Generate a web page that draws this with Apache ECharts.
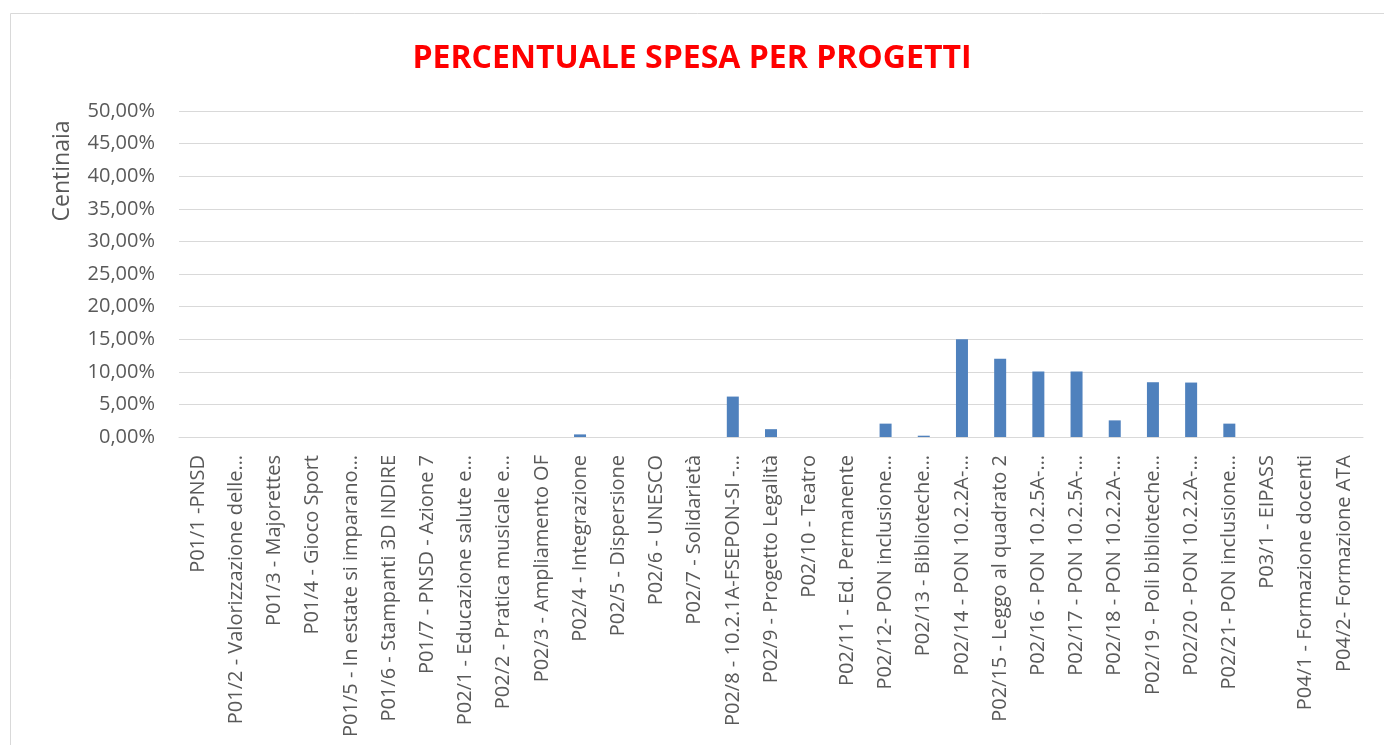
<!DOCTYPE html>
<html>
<head>
<meta charset="utf-8">
<title>Percentuale spesa per progetti</title>
<script src="https://cdn.jsdelivr.net/npm/echarts@6/dist/echarts.min.js"></script>
<style>
    html, body { margin: 0; padding: 0; background: #fff; }
    #chart { width: 1384px; height: 745px; }
</style>
</head>
<body>
<div id="chart"></div>
<script>
    // progetti (etichette come appaiono, troncate)
    const categories = [
        'P01/1 -PNSD',
        'P01/2 - Valorizzazione delle…',
        'P01/3 - Majorettes',
        'P01/4 - Gioco Sport',
        'P01/5 - In estate si imparano…',
        'P01/6 - Stampanti 3D INDIRE',
        'P01/7 - PNSD - Azione 7',
        'P02/1 - Educazione salute e…',
        'P02/2 - Pratica musicale e…',
        'P02/3 - Ampliamento OF',
        'P02/4 - Integrazione',
        'P02/5 - Dispersione',
        'P02/6 - UNESCO',
        'P02/7 - Solidarietà',
        'P02/8 - 10.2.1A-FSEPON-SI -…',
        'P02/9 - Progetto Legalità',
        'P02/10 - Teatro',
        'P02/11 - Ed. Permanente',
        'P02/12- PON inclusione…',
        'P02/13 - Biblioteche…',
        'P02/14 - PON 10.2.2A-…',
        'P02/15 - Leggo al quadrato 2',
        'P02/16 - PON 10.2.5A-…',
        'P02/17 - PON 10.2.5A-…',
        'P02/18 - PON 10.2.2A-…',
        'P02/19 - Poli biblioteche…',
        'P02/20 - PON 10.2.2A-…',
        'P02/21- PON inclusione…',
        'P03/1 - EIPASS',
        'P04/1 - Formazione docenti',
        'P04/2- Formazione ATA'
    ];

    // percentuale spesa
    const percentuali = [
        0, 0, 0, 0, 0, 0, 0, 0, 0, 0,
        0.4, 0, 0, 0, 6.2, 1.2, 0, 0, 2.05, 0.2,
        15.0, 12.0, 10.05, 10.05, 2.55, 8.4, 8.35, 2.05, 0, 0, 0
    ];

    const yTicks = { min: 0, max: 50, interval: 5 };

    const fmtPerc = v => v.toFixed(2).replace('.', ',') + '%';

    const chart = echarts.init(document.getElementById('chart'));
    const option = {
        animation: false,
        textStyle: { fontFamily: 'Open Sans' },
        title: {
            text: 'PERCENTUALE SPESA PER PROGETTI',
            left: 'center',
            top: 38,
            textStyle: {
                color: '#ff0000',
                fontSize: 32,
                fontWeight: 'bold',
                fontFamily: 'Open Sans'
            }
        },
        graphic: [
            {
                type: 'rect',
                shape: { x: 10.5, y: 13.5, width: 1420, height: 800 },
                style: { fill: 'none', stroke: '#d9d9d9', lineWidth: 1 },
                silent: true
            },
            {
                type: 'text',
                x: 62,
                y: 171,
                rotation: Math.PI / 2,
                style: {
                    text: 'Centinaia',
                    fill: '#595959',
                    fontSize: 23,
                    fontFamily: 'Open Sans',
                    align: 'center',
                    verticalAlign: 'middle'
                }
            }
        ],
        grid: {
            left: 179,
            right: 21,
            top: 111,
            bottom: 308
        },
        xAxis: {
            type: 'category',
            data: categories,
            axisLine: { lineStyle: { color: '#d9d9d9', width: 1 } },
            axisTick: { show: false },
            axisLabel: {
                rotate: 90,
                interval: 0,
                color: '#595959',
                fontSize: 20,
                margin: 18
            }
        },
        yAxis: {
            type: 'value',
            min: yTicks.min,
            max: yTicks.max,
            interval: yTicks.interval,
            axisLine: { show: false },
            axisTick: { show: false },
            splitLine: { lineStyle: { color: '#d9d9d9', width: 1 } },
            axisLabel: {
                color: '#595959',
                fontSize: 20,
                margin: 24,
                formatter: fmtPerc
            }
        },
        series: [
            {
                type: 'bar',
                data: percentuali,
                barWidth: 12,
                itemStyle: { color: '#4f81bd' }
            }
        ]
    };
    chart.setOption(option);
</script>
</body>
</html>
